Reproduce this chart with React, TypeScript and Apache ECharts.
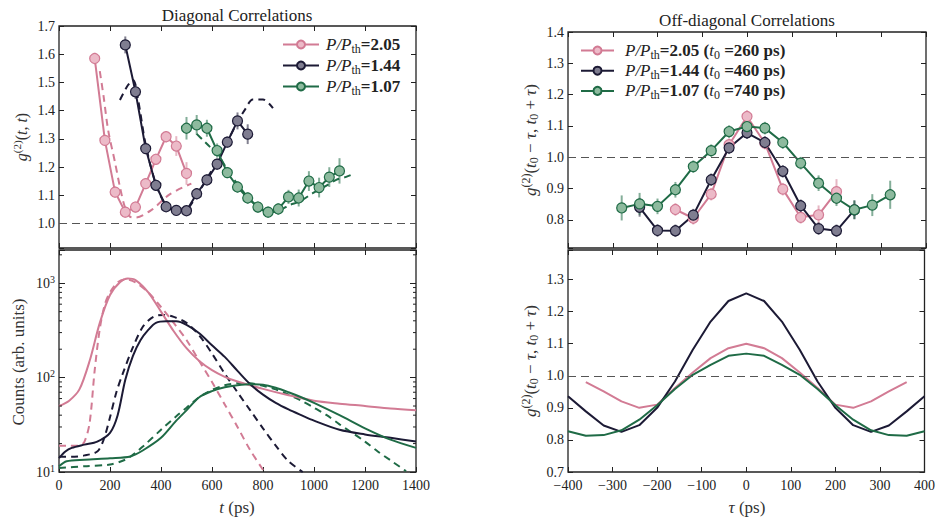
import React, { useEffect, useRef } from 'react';
import * as echarts from 'echarts';

// ---------- Diagonal correlations (top-left) ----------
const diagPinkT = [140, 180, 220, 260, 300, 340, 380, 420, 460, 500];
const diagPinkG = [1.585, 1.295, 1.112, 1.041, 1.059, 1.142, 1.228, 1.308, 1.275, 1.178];
const diagPinkE = [0.02, 0.02, 0.02, 0.02, 0.02, 0.02, 0.02, 0.02, 0.035, 0.04];

const diagDarkT = [260, 300, 340, 380, 420, 460, 500, 540, 580, 620, 660, 700, 740];
const diagDarkG = [1.633, 1.467, 1.266, 1.136, 1.06, 1.047, 1.046, 1.106, 1.155, 1.211, 1.289, 1.364, 1.317];
const diagDarkE = [0.03, 0.025, 0.02, 0.02, 0.015, 0.015, 0.015, 0.02, 0.02, 0.02, 0.02, 0.03, 0.035];

const diagGreenT = [500, 540, 580, 620, 660, 700, 740, 780, 820, 860, 900, 940, 980, 1020, 1060, 1100];
const diagGreenG = [1.338, 1.35, 1.338, 1.259, 1.181, 1.13, 1.091, 1.059, 1.041, 1.052, 1.095, 1.091, 1.151, 1.128, 1.165, 1.187];
const diagGreenE = [0.04, 0.035, 0.03, 0.025, 0.02, 0.02, 0.02, 0.02, 0.02, 0.02, 0.025, 0.03, 0.035, 0.035, 0.035, 0.045];

const thPinkT = [160, 175, 193, 219, 239, 258, 278, 300, 363, 434, 519];
const thPinkG = [1.54, 1.45, 1.33, 1.22, 1.13, 1.06, 1.025, 1.022, 1.049, 1.104, 1.142];
const thDarkT = [239, 270, 291, 310, 340, 380, 420, 460, 500, 540, 580, 620, 660, 700, 730, 760, 800, 839];
const thDarkG = [1.438, 1.49, 1.509, 1.44, 1.28, 1.14, 1.065, 1.045, 1.05, 1.1, 1.16, 1.22, 1.29, 1.36, 1.405, 1.44, 1.44, 1.409];
const thGreenT = [540, 565, 591, 630, 660, 700, 740, 780, 820, 860, 904, 943, 995, 1040, 1087, 1126, 1160];
const thGreenG = [1.318, 1.296, 1.273, 1.237, 1.19, 1.14, 1.095, 1.06, 1.04, 1.045, 1.066, 1.078, 1.108, 1.13, 1.155, 1.166, 1.178];

// ---------- Counts (bottom-left, log) ----------
const cntPinkT = [0, 40, 80, 120, 160, 200, 240, 270, 300, 350, 400, 450, 500, 550, 600, 650, 700, 800, 900, 1000, 1100, 1200, 1300, 1400];
const cntPinkV = [50, 57, 75, 150, 380, 750, 1030, 1120, 1080, 800, 500, 310, 205, 150, 120, 102, 91, 76, 65, 57, 53, 50, 47, 45];
const cntPinkDT = [0, 40, 80, 100, 120, 140, 160, 180, 200, 230, 262, 300, 350, 400, 450, 500, 550, 600, 650, 700, 750, 806];
const cntPinkDV = [19, 19, 19, 21, 33, 120, 330, 600, 800, 1020, 1100, 1020, 800, 560, 380, 250, 150, 90, 52, 30, 17, 10];

const cntDarkT = [0, 25, 50, 100, 150, 200, 230, 260, 290, 320, 350, 380, 420, 460, 500, 550, 600, 650, 700, 750, 800, 850, 900, 950, 1000, 1100, 1200, 1300, 1400];
const cntDarkV = [14, 16.5, 18, 19.5, 21, 26, 40, 95, 170, 250, 320, 380, 395, 395, 363, 295, 220, 166, 118, 85, 66, 54, 46, 40, 35, 28, 25, 23, 21];
const cntDarkDT = [0, 50, 100, 150, 175, 200, 225, 250, 290, 330, 370, 410, 450, 500, 550, 600, 650, 700, 750, 800, 850, 900, 956];
const cntDarkDV = [14.5, 14.5, 15, 16.5, 22, 38, 70, 110, 210, 350, 440, 462, 440, 380, 280, 180, 110, 70, 45, 29, 19, 13, 10];

const cntGreenT = [0, 30, 100, 200, 280, 330, 400, 460, 500, 550, 600, 650, 700, 750, 800, 850, 900, 950, 1000, 1100, 1200, 1300, 1400];
const cntGreenV = [11.5, 13, 13.5, 14, 14.6, 17, 23, 35, 45, 62, 72, 79, 83, 85, 84, 78, 70, 62, 54, 40, 29, 22, 18];
const cntGreenDT = [0, 100, 200, 260, 300, 330, 400, 460, 500, 550, 600, 650, 700, 750, 800, 850, 900, 950, 1000, 1050, 1100, 1150, 1200, 1250, 1300, 1361];
const cntGreenDV = [11, 11.5, 12, 13.5, 16, 18.7, 28, 39, 48, 62, 74, 83, 87, 87, 82, 75, 66, 57, 48, 40, 32, 26, 21, 16.5, 13.3, 10.2];

const logMinorTicks = [20, 30, 40, 50, 60, 70, 80, 90, 200, 300, 400, 500, 600, 700, 800, 900, 2000];

// ---------- Off-diagonal (top-right) ----------
const offPinkT = [-160, -120, -80, -40, 0, 40, 80, 120, 160, 200];
const offPinkG = [0.833, 0.805, 0.882, 1.04, 1.13, 1.045, 0.898, 0.808, 0.816, 0.89];
const offPinkE = [0.02, 0.02, 0.02, 0.02, 0.02, 0.02, 0.02, 0.02, 0.03, 0.04];
const offDarkT = [-240, -200, -160, -120, -80, -40, 0, 40, 80, 120, 160, 200, 240];
const offDarkG = [0.84, 0.766, 0.765, 0.815, 0.928, 1.03, 1.078, 1.047, 0.955, 0.845, 0.772, 0.765, 0.832];
const offDarkE = [0.03, 0.02, 0.02, 0.02, 0.02, 0.02, 0.02, 0.02, 0.02, 0.02, 0.02, 0.02, 0.03];
const offGreenT = [-280, -240, -200, -160, -120, -80, -40, 0, 40, 80, 120, 160, 200, 240, 280, 320];
const offGreenG = [0.838, 0.851, 0.843, 0.896, 0.97, 1.021, 1.082, 1.098, 1.093, 1.047, 0.981, 0.917, 0.869, 0.832, 0.847, 0.88];
const offGreenE = [0.04, 0.035, 0.025, 0.025, 0.02, 0.02, 0.02, 0.02, 0.02, 0.02, 0.02, 0.025, 0.025, 0.03, 0.035, 0.045];

// ---------- Model (bottom-right) ----------
const modDarkT = [-400, -360, -320, -280, -240, -200, -160, -120, -80, -40, 0, 40, 80, 120, 160, 200, 240, 280, 320, 360, 400];
const modDarkG = [0.936, 0.889, 0.845, 0.825, 0.846, 0.9, 0.982, 1.081, 1.169, 1.233, 1.257, 1.233, 1.169, 1.081, 0.982, 0.9, 0.846, 0.825, 0.845, 0.889, 0.936];
const modPinkT = [-360, -320, -280, -240, -200, -160, -120, -80, -40, 0, 40, 80, 120, 160, 200, 240, 280, 320, 360];
const modPinkG = [0.98, 0.951, 0.92, 0.9, 0.91, 0.962, 1.01, 1.055, 1.086, 1.1, 1.086, 1.055, 1.01, 0.962, 0.91, 0.9, 0.92, 0.951, 0.98];
const modGreenT = [-400, -360, -320, -280, -240, -200, -160, -120, -80, -40, 0, 40, 80, 120, 160, 200, 240, 280, 320, 360, 400];
const modGreenG = [0.827, 0.813, 0.815, 0.83, 0.863, 0.908, 0.959, 1.003, 1.034, 1.062, 1.069, 1.062, 1.034, 1.003, 0.959, 0.908, 0.863, 0.83, 0.815, 0.813, 0.827];

const ratios = ['2.05', '1.44', '1.07'];
const t0s = ['260', '460', '740'];

// ---------- styles ----------
const F = 'Liberation Serif';
const INK = '#222222';
const COL = {
  pink: { line: '#d27b94', fill: '#ecbac8' },
  dark: { line: '#1c1a35', fill: '#7f7d90' },
  green: { line: '#1f6b46', fill: '#8dba9e' },
};
const keys: Array<'pink' | 'dark' | 'green'> = ['pink', 'dark', 'green'];

const rich = (size: number, color = INK) => ({
  r: { fontFamily: F, fontSize: size, color, lineHeight: 20 },
  i: { fontFamily: F, fontSize: size, fontStyle: 'italic', color, lineHeight: 20 },
  b: { fontFamily: F, fontSize: size, fontWeight: 'bold', color, lineHeight: 20 },
  sub: { fontFamily: F, fontSize: Math.round(size * 0.68), color, verticalAlign: 'bottom', lineHeight: 12 },
  sup: { fontFamily: F, fontSize: Math.round(size * 0.68), color, verticalAlign: 'top', lineHeight: 12 },
});

const pts = (xs: number[], ys: number[]) => xs.map((x, i) => [x, ys[i]]);
const errs = (xs: number[], ys: number[], es: number[]) => xs.map((x, i) => [x, ys[i] - es[i], ys[i] + es[i]]);

const tick = { show: true, inside: true, length: 5, lineStyle: { color: INK, width: 1 } };
const fmt1 = (v: number) => (Math.abs(v * 10 - Math.round(v * 10)) < 1e-6 ? v.toFixed(1) : '');

function xAx(grid: number, min: number, max: number, interval: number, labels: boolean, pos: 'bottom' | 'top') {
  return {
    type: 'value', gridIndex: grid, min, max, interval, position: pos,
    axisLine: { show: false, onZero: false }, axisTick: tick, splitLine: { show: false },
    axisLabel: { show: labels, fontFamily: F, fontSize: 14, color: INK, margin: 6, formatter: (v: number) => (v < 0 ? '\u2212' + Math.abs(v) : String(v)) },
  };
}
function yAx(grid: number, min: number, max: number, labels: boolean, pos: 'left' | 'right') {
  return {
    type: 'value', gridIndex: grid, min, max, splitNumber: 7, position: pos,
    axisLine: { show: false, onZero: false }, axisTick: tick, splitLine: { show: false },
    axisLabel: { show: labels, fontFamily: F, fontSize: 14, color: INK, margin: 4, formatter: fmt1, showMinLabel: true, showMaxLabel: true },
  };
}
function logAx(labels: boolean, pos: 'left' | 'right') {
  return {
    type: 'log', logBase: 10, gridIndex: 1, min: 10, max: 2250, position: pos,
    axisLine: { show: false, onZero: false }, axisTick: { ...tick, length: 6 }, splitLine: { show: false },
    axisLabel: {
      show: labels, margin: 4,
      formatter: (v: number) => {
        const e = Math.round(Math.log10(v));
        return Math.abs(Math.pow(10, e) - v) < 1e-6 * v ? `{r|10}{sup|${e}}` : '';
      },
      rich: { r: { fontFamily: F, fontSize: 14, color: INK, lineHeight: 18 }, sup: { fontFamily: F, fontSize: 10, color: INK, verticalAlign: 'top', lineHeight: 10 } },
    },
  };
}

const errRender = (color: string) => (params: any, api: any) => {
  const x = api.value(0);
  const p1 = api.coord([x, api.value(1)]);
  const p2 = api.coord([x, api.value(2)]);
  return { type: 'line', shape: { x1: p1[0], y1: p1[1], x2: p2[0], y2: p2[1] }, style: { stroke: color, lineWidth: 2, opacity: 0.55 } };
};

const refLine = {
  silent: true, symbol: ['none', 'none'], label: { show: false },
  lineStyle: { color: '#555', width: 1.2, type: [8, 5] }, data: [{ yAxis: 1 }],
};

const axisName = (x: number, y: number, text: string, rotate: boolean, size: number) => ({
  type: 'text', x, y, rotation: rotate ? Math.PI / 2 : 0, silent: true,
  style: { text, rich: rich(size, '#333'), align: 'center', verticalAlign: 'middle', fontFamily: F, fontSize: size, fill: '#333' },
});

export default function App() {
  const ref = useRef<HTMLDivElement>(null);
  useEffect(() => {
    if (!ref.current) return;
    const chart = echarts.init(ref.current, undefined, { renderer: 'svg' });
    const leftNames = ratios.map((r) => `P/Pth=${r}`);
    const rightNames = ratios.map((r, i) => `P/Pth=${r} (t0 =${t0s[i]} ps)`);
    const leftMap: Record<string, string> = {};
    const rightMap: Record<string, string> = {};
    ratios.forEach((r, i) => {
      leftMap[leftNames[i]] = `{i|P/P}{sub|th}{b|=${r}}`;
      rightMap[rightNames[i]] = `{i|P/P}{sub|th}{b|=${r} (}{i|t}{sub|0}{b| =${t0s[i]} ps)}`;
    });

    const diag = [
      [diagPinkT, diagPinkG, diagPinkE, thPinkT, thPinkG],
      [diagDarkT, diagDarkG, diagDarkE, thDarkT, thDarkG],
      [diagGreenT, diagGreenG, diagGreenE, thGreenT, thGreenG],
    ];
    const cnt = [
      [cntPinkT, cntPinkV, cntPinkDT, cntPinkDV],
      [cntDarkT, cntDarkV, cntDarkDT, cntDarkDV],
      [cntGreenT, cntGreenV, cntGreenDT, cntGreenDV],
    ];
    const off = [
      [offPinkT, offPinkG, offPinkE],
      [offDarkT, offDarkG, offDarkE],
      [offGreenT, offGreenG, offGreenE],
    ];
    const mod = [
      [modPinkT, modPinkG],
      [modDarkT, modDarkG],
      [modGreenT, modGreenG],
    ];

    const series: any[] = [];
    keys.forEach((k, i) => {
      const c = COL[k];
      const d = diag[i];
      series.push({
        type: 'line', xAxisIndex: 0, yAxisIndex: 0, data: pts(d[3], d[4]), symbol: 'none', smooth: 0.3,
        lineStyle: { color: c.line, width: 2, type: [7, 5] }, z: 2,
        ...(i === 0 ? { markLine: refLine } : {}),
      });
    });
    keys.forEach((k, i) => {
      const c = COL[k];
      const d = diag[i];
      series.push({ type: 'custom', xAxisIndex: 0, yAxisIndex: 0, data: errs(d[0], d[1], d[2]), renderItem: errRender(c.line), encode: { x: 0, y: [1, 2] }, z: 3 });
      series.push({
        type: 'line', name: leftNames[i], xAxisIndex: 0, yAxisIndex: 0, data: pts(d[0], d[1]),
        symbol: 'circle', symbolSize: 10, lineStyle: { color: c.line, width: 2 },
        itemStyle: { color: c.fill, borderColor: c.line, borderWidth: 1.2 }, z: 4,
      });
    });
    keys.forEach((k, i) => {
      const c = COL[k];
      const d = cnt[i];
      series.push({
        type: 'line', xAxisIndex: 2, yAxisIndex: 2, data: pts(d[2], d[3]), symbol: 'none', smooth: 0.3,
        lineStyle: { color: c.line, width: 2, type: [7, 5] }, z: 2,
      });
    });
    keys.forEach((k, i) => {
      const c = COL[k];
      const d = cnt[i];
      series.push({
        type: 'line', xAxisIndex: 2, yAxisIndex: 2, data: pts(d[0], d[1]), symbol: 'none', smooth: 0.3,
        lineStyle: { color: c.line, width: 2 }, z: 3,
      });
    });
    series.push({
      type: 'custom', xAxisIndex: 2, yAxisIndex: 2, data: logMinorTicks.map((v) => [0, v]), silent: true, z: 5,
      renderItem: (params: any, api: any) => {
        const y = api.coord([api.value(0), api.value(1)])[1];
        const cs = params.coordSys;
        return {
          type: 'group', children: [
            { type: 'line', shape: { x1: cs.x, y1: y, x2: cs.x + 3, y2: y }, style: { stroke: INK, lineWidth: 1 } },
            { type: 'line', shape: { x1: cs.x + cs.width, y1: y, x2: cs.x + cs.width - 3, y2: y }, style: { stroke: INK, lineWidth: 1 } },
          ],
        };
      },
    });
    keys.forEach((k, i) => {
      const c = COL[k];
      const d = off[i];
      series.push({ type: 'custom', xAxisIndex: 4, yAxisIndex: 4, data: errs(d[0], d[1], d[2]), renderItem: errRender(c.line), encode: { x: 0, y: [1, 2] }, z: 3 });
      series.push({
        type: 'line', name: rightNames[i], xAxisIndex: 4, yAxisIndex: 4, data: pts(d[0], d[1]),
        symbol: 'circle', symbolSize: 10, lineStyle: { color: c.line, width: 2 },
        itemStyle: { color: c.fill, borderColor: c.line, borderWidth: 1.2 }, z: 4,
        ...(i === 0 ? { markLine: refLine } : {}),
      });
    });
    keys.forEach((k, i) => {
      const c = COL[k];
      const d = mod[i];
      series.push({
        type: 'line', xAxisIndex: 6, yAxisIndex: 6, data: pts(d[0], d[1]), symbol: 'none',
        lineStyle: { color: c.line, width: 2 }, z: 3,
        ...(i === 0 ? { markLine: refLine } : {}),
      });
    });

    const legendBase = {
      orient: 'vertical', itemWidth: 36, itemHeight: 10, itemGap: 2.5, padding: 0,
      textStyle: { fontFamily: F, fontSize: 17, color: INK, rich: rich(17), padding: [0, 0, 0, 2] },
      selectedMode: false,
    };

    const g2name = '{i|g}{sup|(2)}{r|(}{i|t}{sub|0}{r| \u2212 }{i|\u03c4}{r|, }{i|t}{sub|0}{r| + }{i|\u03c4}{r|)}';

    chart.setOption({
      animation: false,
      textStyle: { fontFamily: F },
      grid: [
        { left: 59, top: 26, width: 357, height: 222, show: true, borderColor: INK, borderWidth: 1.3 },
        { left: 59, top: 250, width: 357, height: 222, show: true, borderColor: INK, borderWidth: 1.3 },
        { left: 568, top: 32, width: 358, height: 216, show: true, borderColor: INK, borderWidth: 1.3 },
        { left: 568, top: 250, width: 358, height: 222, show: true, borderColor: INK, borderWidth: 1.3 },
      ],
      xAxis: [
        xAx(0, 0, 1400, 200, false, 'bottom'),
        xAx(0, 0, 1400, 200, false, 'top'),
        xAx(1, 0, 1400, 200, true, 'bottom'),
        xAx(1, 0, 1400, 200, false, 'top'),
        xAx(2, -400, 400, 100, false, 'bottom'),
        xAx(2, -400, 400, 100, false, 'top'),
        xAx(3, -400, 400, 100, true, 'bottom'),
        xAx(3, -400, 400, 100, false, 'top'),
      ],
      yAxis: [
        yAx(0, 0.914, 1.7, true, 'left'),
        yAx(0, 0.914, 1.7, false, 'right'),
        logAx(true, 'left'),
        logAx(false, 'right'),
        yAx(2, 0.71, 1.4, true, 'left'),
        yAx(2, 0.71, 1.4, false, 'right'),
        yAx(3, 0.7, 1.392, true, 'left'),
        yAx(3, 0.7, 1.392, false, 'right'),
      ],
      legend: [
        { ...legendBase, left: 282, top: 36, data: leftNames, formatter: (n: string) => leftMap[n] },
        { ...legendBase, left: 580, top: 42, itemWidth: 33, itemGap: 1.7, data: rightNames, formatter: (n: string) => rightMap[n], textStyle: { ...legendBase.textStyle, padding: [0, 0, 0, 6] } },
      ],
      graphic: [
        { type: 'text', x: 237, y: 15, silent: true, style: { text: 'Diagonal Correlations', align: 'center', verticalAlign: 'middle', fontFamily: F, fontSize: 17, fill: INK } },
        { type: 'text', x: 747, y: 20, silent: true, style: { text: 'Off-diagonal Correlations', align: 'center', verticalAlign: 'middle', fontFamily: F, fontSize: 17, fill: INK } },
        axisName(21, 137, '{i|g}{sup|(2)}{r|(}{i|t}{r|, }{i|t}{r|)}', true, 16),
        axisName(18, 362, '{r|Counts (arb. units)}', true, 17),
        axisName(530, 140, g2name, true, 17),
        axisName(530, 361, g2name, true, 17),
        axisName(237, 507, '{i|t}{r| (ps)}', false, 17),
        axisName(747, 507, '{i|\u03c4}{r| (ps)}', false, 17),
      ],
      series,
    });
    return () => chart.dispose();
  }, []);
  return <div ref={ref} style={{ position: 'fixed', left: 0, top: 0, width: 938, height: 517, background: '#fff' }} />;
}
